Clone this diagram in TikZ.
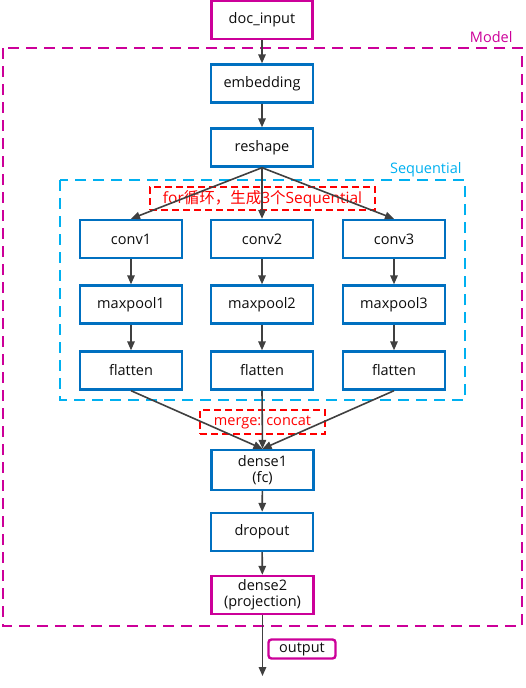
\documentclass[tikz,border=0pt]{standalone}
\usepackage{fontspec}
\setmainfont{Open Sans}
\newfontfamily\cjk{Noto Sans CJK SC}
\usetikzlibrary{arrows.meta}
\definecolor{boxblue}{HTML}{0070C0}
\definecolor{mag}{HTML}{CC0099}
\definecolor{cyanb}{HTML}{00B0F0}
\definecolor{redl}{HTML}{FF0000}
\definecolor{arr}{HTML}{404040}
\definecolor{txt}{HTML}{0D0D0D}
\tikzset{
  bbox/.style={draw=boxblue, line width=2.4pt, fill=white, minimum width=102pt, minimum height=38pt, inner sep=0pt, align=center, text=txt, font=\fontsize{14.5}{16}\selectfont},
  mbox/.style={bbox, draw=mag},
  frameM/.style={draw=mag, line width=2.6pt, dash pattern=on 11pt off 7pt},
  frameS/.style={draw=cyanb, line width=2.6pt, dash pattern=on 11pt off 7pt},
  redlab/.style={draw=redl, line width=1.8pt, dash pattern=on 7pt off 4pt, text=redl, inner sep=0pt, font=\fontsize{14.5}{16}\selectfont},
  conn/.style={draw=arr, line width=1.6pt, -{Triangle[length=9pt,width=7.5pt]}},
}
\begin{document}
\begin{tikzpicture}[x=1pt,y=-1pt]
\useasboundingbox (0,0) rectangle (526,688);
% frames
\draw[frameM] (3,48) rectangle (522,626);
\node[text=mag, anchor=base east, font=\fontsize{14.5}{16}\selectfont] (modellab) at (516,42) {Model};
\draw[frameS] (60,180) rectangle (465,400);
\node[text=cyanb, anchor=base east, font=\fontsize{14.5}{16}\selectfont] (seqlab) at (465,173) {Sequential};
% nodes
\node[mbox, minimum width=101pt] (docin) at (262,20) {doc\_input};
\node[bbox] (emb) at (262,83.5) {embedding};
\node[bbox] (resh) at (262,147.5) {reshape};
\node[bbox] (c1) at (131,239) {conv1};
\node[bbox] (c2) at (262,239) {conv2};
\node[bbox] (c3) at (394,239) {conv3};
\node[bbox] (m1) at (131,304.5) {maxpool1};
\node[bbox] (m2) at (262,304.5) {maxpool2};
\node[bbox] (m3) at (394,304.5) {maxpool3};
\node[bbox] (f1) at (131,370.5) {flatten};
\node[bbox] (f2) at (262,370.5) {flatten};
\node[bbox] (f3) at (394,370.5) {flatten};
\node[bbox, minimum height=40pt, font=\fontsize{14.5}{16}\selectfont] (d1) at (262.5,470) {dense1\\(fc)};
\node[bbox] (drop) at (262,532) {dropout};
\node[mbox, minimum height=38pt, font=\fontsize{14.5}{16}\selectfont] (d2) at (262.5,595) {dense2\\(projection)};
\node[draw=mag, line width=2.4pt, rounded corners=3pt, minimum width=67pt, minimum height=19pt, inner sep=0pt, text=txt, font=\fontsize{14.5}{16}\selectfont] (out) at (302,649) {output};
\coordinate (end) at (262.5,676);
% labels
\node[redlab, minimum width=225pt, minimum height=23pt, font=\fontsize{15.5}{17}\selectfont] (forlab) at (262.5,198.5) {for{\cjk 循环，生成}3{\cjk 个}Sequential};
\node[redlab, minimum width=125pt, minimum height=24pt] (mergelab) at (262.5,422) {merge: concat};
% connectors
\draw[conn] (docin) -- (emb);
\draw[conn] (emb) -- (resh);
\draw[conn] (resh.south) -- (c1.north);
\draw[conn] (resh.south) -- (c2.north);
\draw[conn] (resh.south) -- (c3.north);
\draw[conn] (c1) -- (m1);
\draw[conn] (c2) -- (m2);
\draw[conn] (c3) -- (m3);
\draw[conn] (m1) -- (f1);
\draw[conn] (m2) -- (f2);
\draw[conn] (m3) -- (f3);
\draw[conn] (f1.south) -- (d1.north);
\draw[conn] (f2.south) -- (d1.north);
\draw[conn] (f3.south) -- (d1.north);
\draw[conn] (d1) -- (drop);
\draw[conn] (drop) -- (d2);
\draw[conn] (d2.south) -- (end);
\end{tikzpicture}
\end{document}
